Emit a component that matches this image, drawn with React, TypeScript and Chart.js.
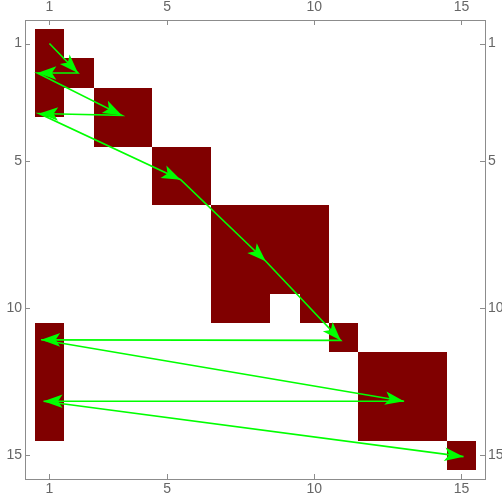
import React, { useEffect, useRef } from "react";
import { Chart, registerables } from "chart.js";

Chart.register(...registerables);

// Filled columns of each matrix row (rows 1..15)
const rowFills: number[][] = [
  [1],
  [1, 2],
  [1, 3, 4],
  [3, 4],
  [5, 6],
  [5, 6],
  [7, 8, 9, 10],
  [7, 8, 9, 10],
  [7, 8, 9, 10],
  [7, 8, 10],
  [1, 11],
  [1, 12, 13, 14],
  [1, 12, 13, 14],
  [1, 12, 13, 14],
  [15],
];

// Arrow path (column, row) – each segment ends with an arrowhead
const pathX: number[] = [1, 1.97, 0.59, 3.46, 0.65, 5.46, 8.35, 10.9, 0.72, 13.05, 0.8, 15.07];
const pathY: number[] = [1, 2.0, 2.0, 3.44, 3.38, 5.63, 8.4, 11.09, 11.07, 13.16, 13.16, 15.04];

const tickValues: number[] = [1, 5, 10, 15];

const xMin = 0.17;
const xMax = 15.8;
const yMin = 0.2;
const yMax = 15.8;

const cellColor = "#800000";
const arrowColor = "#00ff00";
const frameColor = "#8c8c8c";
const labelColor = "#666666";

const cellPlugin = {
  id: "cells",
  beforeDatasetsDraw(chart: any) {
    const { ctx, chartArea: a, scales } = chart;
    const xs = scales.x;
    const ys = scales.y;
    ctx.save();
    ctx.beginPath();
    ctx.rect(a.left, a.top, a.right - a.left, a.bottom - a.top);
    ctx.clip();
    ctx.fillStyle = cellColor;
    rowFills.forEach((cols, i) => {
      const r = i + 1;
      cols.forEach((c) => {
        const x0 = Math.round(xs.getPixelForValue(c - 0.5));
        const x1 = Math.round(xs.getPixelForValue(c + 0.5));
        const yA = Math.round(ys.getPixelForValue(r - 0.5));
        const yB = Math.round(ys.getPixelForValue(r + 0.5));
        const y0 = Math.min(yA, yB);
        const y1 = Math.max(yA, yB);
        ctx.fillRect(x0, y0, x1 - x0, y1 - y0);
      });
    });
    ctx.restore();
  },
  afterDatasetsDraw(chart: any) {
    const { ctx, scales } = chart;
    const xs = scales.x;
    const ys = scales.y;
    ctx.save();
    ctx.fillStyle = arrowColor;
    const L = 19;
    const W = 6.8;
    const N = 14.5;
    for (let i = 1; i < pathX.length; i++) {
      const px0 = xs.getPixelForValue(pathX[i - 1]);
      const py0 = ys.getPixelForValue(pathY[i - 1]);
      const px1 = xs.getPixelForValue(pathX[i]);
      const py1 = ys.getPixelForValue(pathY[i]);
      const ang = Math.atan2(py1 - py0, px1 - px0);
      ctx.save();
      ctx.translate(px1, py1);
      ctx.rotate(ang);
      ctx.beginPath();
      ctx.moveTo(0, 0);
      ctx.lineTo(-L, W);
      ctx.lineTo(-N, 0);
      ctx.lineTo(-L, -W);
      ctx.closePath();
      ctx.fill();
      ctx.restore();
    }
    ctx.restore();
  },
  afterDraw(chart: any) {
    const { ctx, chartArea: a, scales } = chart;
    const xs = scales.x;
    const ys = scales.y;
    ctx.save();
    ctx.strokeStyle = frameColor;
    ctx.lineWidth = 1;
    ctx.beginPath();
    tickValues.forEach((v) => {
      const px = Math.round(xs.getPixelForValue(v)) + 0.5;
      ctx.moveTo(px, a.top);
      ctx.lineTo(px, a.top + 5);
      ctx.moveTo(px, a.bottom);
      ctx.lineTo(px, a.bottom - 5);
      const py = Math.round(ys.getPixelForValue(v)) + 0.5;
      ctx.moveTo(a.left, py);
      ctx.lineTo(a.left + 5, py);
      ctx.moveTo(a.right, py);
      ctx.lineTo(a.right - 5, py);
    });
    ctx.stroke();
    ctx.restore();
  },
};

function makeAxis(position: string, isX: boolean, size: number, padding: number) {
  return {
    type: "linear",
    position,
    min: isX ? xMin : yMin,
    max: isX ? xMax : yMax,
    reverse: !isX,
    grid: {
      drawOnChartArea: false,
      drawTicks: false,
      color: frameColor,
    },
    border: { display: true, color: frameColor, width: 1 },
    ticks: {
      padding,
      color: labelColor,
      font: { family: "'Liberation Sans', Arial, sans-serif", size: 14 },
      callback: (v: any) => String(v),
      maxRotation: 0,
      autoSkip: false,
    },
    afterBuildTicks: (scale: any) => {
      scale.ticks = tickValues.map((v) => ({ value: v }));
    },
    afterFit: (scale: any) => {
      if (isX) scale.height = size;
      else scale.width = size;
    },
  };
}

export default function App() {
  const ref = useRef<HTMLCanvasElement | null>(null);
  useEffect(() => {
    if (!ref.current) return;
    const chart = new Chart(ref.current, {
      type: "scatter",
      data: {
        datasets: [
          {
            data: pathX.map((x, i) => ({ x, y: pathY[i] })),
            showLine: true,
            borderColor: arrowColor,
            borderWidth: 1.6,
            pointRadius: 0,
            tension: 0,
            xAxisID: "x",
            yAxisID: "y",
          } as any,
        ],
      },
      options: {
        responsive: false,
        animation: false,
        devicePixelRatio: 1,
        layout: { padding: 0 },
        plugins: { legend: { display: false }, tooltip: { enabled: false } },
        scales: {
          x: makeAxis("bottom", true, 23, 2),
          x2: makeAxis("top", true, 20, 4),
          y: makeAxis("left", false, 25, 3),
          y2: makeAxis("right", false, 17, 3),
        } as any,
      },
      plugins: [cellPlugin],
    });
    return () => chart.destroy();
  }, []);
  return (
    <div style={{ position: "fixed", left: 0, top: 0, width: 502, height: 502, background: "#fff" }}>
      <canvas ref={ref} width={502} height={502} style={{ width: 502, height: 502 }} />
    </div>
  );
}
